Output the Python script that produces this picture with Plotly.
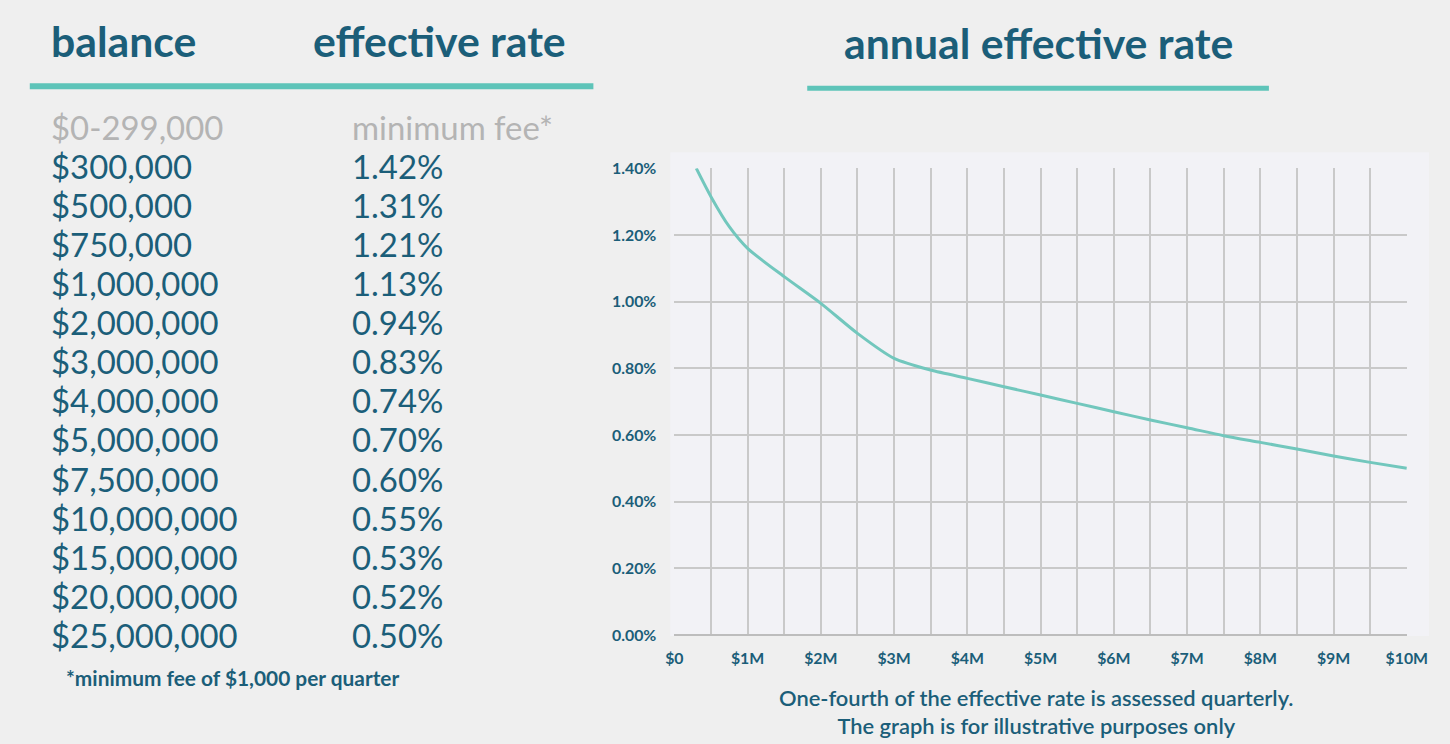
import plotly.graph_objects as go

# ---------------- data ----------------
balances = ["$0-299,000", "$300,000", "$500,000", "$750,000", "$1,000,000",
            "$2,000,000", "$3,000,000", "$4,000,000", "$5,000,000",
            "$7,500,000", "$10,000,000", "$15,000,000", "$20,000,000",
            "$25,000,000"]
rates = ["minimum fee*", "1.42%", "1.31%", "1.21%", "1.13%", "0.94%", "0.83%",
         "0.74%", "0.70%", "0.60%", "0.55%", "0.53%", "0.52%", "0.50%"]

curve_balance_m = [0.3, 0.5, 0.75, 1.0, 1.5, 2.0, 2.5, 3.0, 3.5, 4.0, 4.5,
                   5.0, 5.5, 6.0, 6.5, 7.0, 7.5, 8.0, 8.5, 9.0, 9.5, 10.0]
curve_rate_pct = [1.40, 1.315, 1.225, 1.16, 1.075, 0.995, 0.905, 0.83, 0.795,
                  0.77, 0.745, 0.72, 0.695, 0.67, 0.645, 0.622, 0.598, 0.578,
                  0.558, 0.537, 0.518, 0.50]

y_tick_vals = [0.0, 0.2, 0.4, 0.6, 0.8, 1.0, 1.2, 1.4]
y_tick_text = ["0.00%", "0.20%", "0.40%", "0.60%", "0.80%", "1.00%", "1.20%", "1.40%"]
x_tick_vals = [0, 1, 2, 3, 4, 5, 6, 7, 8, 9, 10]
x_tick_text = ["$0", "$1M", "$2M", "$3M", "$4M", "$5M", "$6M", "$7M", "$8M", "$9M", "$10M"]

footnote = "*minimum fee of $1,000 per quarter"
caption = ["One-fourth of the effective rate is assessed quarterly.",
           "The graph is for illustrative purposes only"]

# ---------------- styling ----------------
W, H = 1450, 744
DARK = "#1b5e79"
GRAY = "#b4b4b4"
TEAL = "#5ec4b9"
CURVE = "#72c7bd"
GRID = "#c9c9c9"
BG = "#efefef"
FONT = "Lato, 'Open Sans', sans-serif"

# the photographed picture is slightly shrunk and framed; compensate so that
# layout positions (given in picture pixels) land where intended
SX, OX = 0.980, 9.2
SY, OY = 0.975, 9.6
FS = 1 / 0.978


def px(x):
    return ((x - OX) / SX) / W


def py(y):
    return 1 - ((y - OY) / SY) / H


def fs(s):
    return round(s * FS, 2)


fig = go.Figure()
fig.add_trace(go.Scatter(
    x=curve_balance_m, y=curve_rate_pct, mode="lines",
    line=dict(color=CURVE, width=3, shape="spline", smoothing=0.7),
    hoverinfo="skip", showlegend=False, cliponaxis=True,
))

shapes = [
    # page background
    dict(type="rect", xref="paper", yref="paper", x0=0, x1=1, y0=0, y1=1,
         fillcolor=BG, line=dict(width=0), layer="below"),
    # chart container
    dict(type="rect", xref="paper", yref="paper", x0=px(671), x1=1,
         y0=py(636), y1=py(152), fillcolor="#f2f2f6", line=dict(width=0), layer="below"),
    # underlines
    dict(type="line", xref="paper", yref="paper", x0=px(30), x1=px(594),
         y0=py(86), y1=py(86), line=dict(color=TEAL, width=6)),
    dict(type="line", xref="paper", yref="paper", x0=px(808), x1=px(1270),
         y0=py(88), y1=py(88), line=dict(color=TEAL, width=5)),
]

ann = []
head_font = dict(family=FONT, size=fs(41.8), color=DARK, weight="bold")
ann.append(dict(text="balance", x=px(49), y=py(40), xanchor="left", yanchor="middle",
                font=head_font))
ann.append(dict(text="effective rate", x=px(311), y=py(40), xanchor="left", yanchor="middle",
                font=head_font))
ann.append(dict(text="annual effective rate", x=px(1039), y=py(42), xanchor="center",
                yanchor="middle", font=head_font))

for i, (b, r) in enumerate(zip(balances, rates)):
    yy = 127 + i * 39.1
    col = GRAY if i == 0 else DARK
    f = dict(family=FONT, size=fs(32.2), color=col)
    ann.append(dict(text=b, x=px(49), y=py(yy), xanchor="left", yanchor="middle", font=f))
    ann.append(dict(text=r, x=px(350), y=py(yy), xanchor="left", yanchor="middle", font=f))

ann.append(dict(text=footnote, x=px(64), y=py(677), xanchor="left", yanchor="middle",
                font=dict(family=FONT, size=fs(20.4), color=DARK, weight="bold")))
ann.append(dict(text="<br>".join(caption), x=px(1037), y=py(711), xanchor="center",
                yanchor="middle", align="center",
                font=dict(family=FONT, size=fs(21.4), color=DARK, weight=600)))
for a in ann:
    a.update(xref="paper", yref="paper", showarrow=False)

tick_font = dict(family=FONT, size=fs(15.5), color=DARK, weight="bold")
fig.update_layout(
    width=W, height=H,
    margin=dict(l=0, r=0, t=0, b=0),
    paper_bgcolor=BG,
    plot_bgcolor=BG,
    shapes=shapes,
    annotations=ann,
    xaxis=dict(domain=[px(675), px(1408)], range=[0, 10], tickvals=x_tick_vals,
               ticktext=x_tick_text, tickfont=tick_font, showgrid=True,
               gridcolor=GRID, gridwidth=2, zeroline=False, showline=False,
               ticks="", ticklabelstandoff=12,
               minor=dict(dtick=0.5, tick0=0, showgrid=True, gridcolor=GRID, gridwidth=2),
               fixedrange=True),
    yaxis=dict(domain=[py(635), py(168)], range=[0, 1.4], tickvals=y_tick_vals,
               ticktext=y_tick_text, tickfont=tick_font, showgrid=True,
               gridcolor=GRID, gridwidth=2, zeroline=True, zerolinecolor="#bdbdbd",
               zerolinewidth=2, showline=False, ticks="", ticklabelstandoff=17,
               fixedrange=True),
)

fig.write_html(
    "out.html",
    config={"displayModeBar": False},
    post_script="document.body.style.margin='0';document.documentElement.style.overflow='hidden';",
)
